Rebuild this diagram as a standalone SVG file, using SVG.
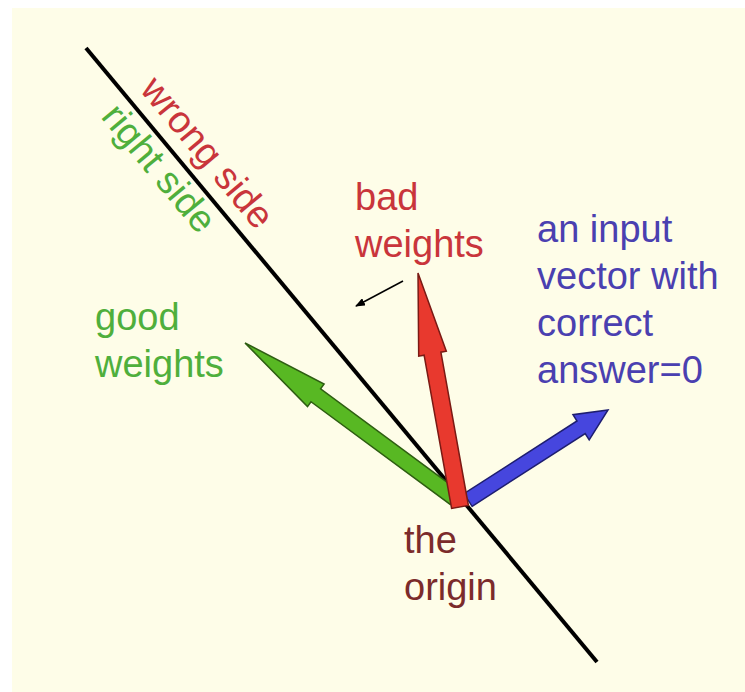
<svg xmlns="http://www.w3.org/2000/svg" width="745" height="692" viewBox="0 0 745 692">
<defs>
<style>
text{font-family:"Liberation Sans",Arial,sans-serif;font-size:38px}
.red{fill:#C9353B}
.green{fill:#4FAF3C}
.blue{fill:#4A40B0}
.dred{fill:#7B2B2B}
.arr{stroke-width:1.5;stroke-linejoin:miter}
</style>
<marker id="ah" viewBox="0 0 10 8" refX="9" refY="4" markerWidth="10" markerHeight="8" markerUnits="userSpaceOnUse" orient="auto">
<path d="M0,0 L10,4 L0,8 Z" fill="#000"/>
</marker>
</defs>
<rect x="0" y="0" width="745" height="692" fill="#ffffff"/>
<rect x="12" y="8" width="733" height="684" fill="#FEFDE8"/>
<g id="boundary">
<line x1="86" y1="48" x2="597" y2="662" stroke="#000" stroke-width="4"/>
<text class="red" transform="translate(139,90) rotate(50.2)">wrong side</text>
<text class="green" transform="translate(100,117) rotate(50.2)">right side</text>
</g>
<g id="connectors">
<line x1="403" y1="281" x2="356" y2="306" stroke="#000" stroke-width="1.5" marker-end="url(#ah)"/>
</g>
<g id="good-weights">
<polygon class="arr" fill="#58B823" stroke="#2E5E12" points="459.8,491.6 320.6,388.9 324.1,384 245,343 307.5,406.6 311,401.7 450.2,504.4"/>
<text class="green" x="95" y="330">good</text>
<text class="green" x="95" y="377">weights</text>
</g>
<g id="input-vector">
<polygon class="arr" fill="#4646DE" stroke="#1E1E70" points="472.1,506.3 585.2,433.6 589.2,439.9 608,410 573,414.7 577,421 463.9,493.7"/>
<text class="blue" x="537" y="242">an input</text>
<text class="blue" x="537" y="289">vector with</text>
<text class="blue" x="537" y="336">correct</text>
<text class="blue" x="537" y="383">answer=0</text>
</g>
<g id="bad-weights">
<polygon class="arr" fill="#E8392E" stroke="#7A1A14" points="468.4,505.5 440.9,352.2 446.3,351.2 418,273 418.7,356.2 424.1,355.2 451.6,508.5"/>
<text class="red" x="355" y="210">bad</text>
<text class="red" x="355" y="257">weights</text>
</g>
<g id="origin">
<text class="dred" x="404" y="553">the</text>
<text class="dred" x="404" y="600">origin</text>
</g>
</svg>
